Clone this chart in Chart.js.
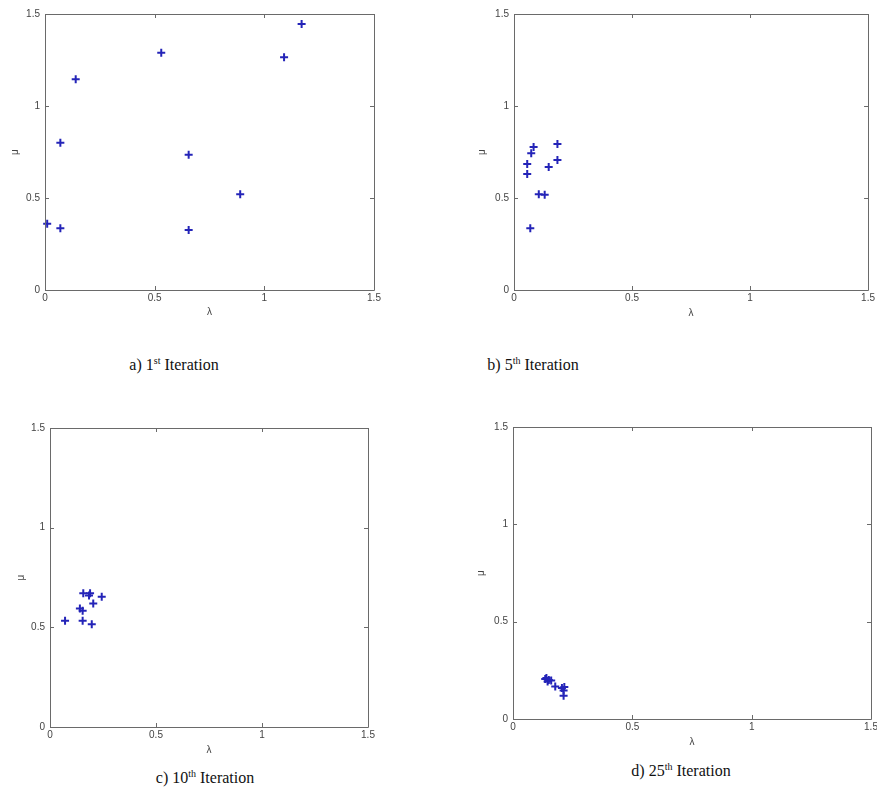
<!DOCTYPE html>
<html>
<head>
<meta charset="utf-8">
<script src="https://cdn.jsdelivr.net/npm/chart.js@4/dist/chart.umd.min.js"></script>
<style>
  html, body { margin: 0; padding: 0; background: #fff; overflow: hidden; }
  body { width: 877px; height: 790px; position: relative; }
  .panel { position: absolute; }
  .caption {
    position: absolute;
    font-family: "Liberation Serif", "DejaVu Serif", serif;
    font-size: 16px;
    color: #111;
    text-align: center;
    white-space: nowrap;
    line-height: 18px;
  }
  .caption sup { font-size: 10px; vertical-align: 6px; line-height: 0; }
</style>
</head>
<body>
<div class="panel" style="left:0;top:0"><canvas id="chart-a" width="390" height="330"></canvas></div>
<div class="panel" style="left:470px;top:0"><canvas id="chart-b" width="407" height="330"></canvas></div>
<div class="panel" style="left:0;top:414px"><canvas id="chart-c" width="390" height="350"></canvas></div>
<div class="panel" style="left:470px;top:413px"><canvas id="chart-d" width="410" height="345"></canvas></div>

<div class="caption" style="left:94px;top:356px;width:160px">a) 1<sup>st</sup> Iteration</div>
<div class="caption" style="left:453px;top:356px;width:160px">b) 5<sup>th</sup> Iteration</div>
<div class="caption" style="left:125px;top:769px;width:160px">c) 10<sup>th</sup> Iteration</div>
<div class="caption" style="left:601px;top:762px;width:160px">d) 25<sup>th</sup> Iteration</div>

<script>
// axis ticks shared by all four panels
const tickValues = [0, 0.5, 1, 1.5];
const tickLabels = ['0', '0.5', '1', '1.5'];

// a) 1st iteration
const lambdaA = [0.01, 0.07, 0.07, 0.14, 0.53, 0.655, 0.655, 0.89, 1.09, 1.17];
const muA = [0.36, 0.335, 0.80, 1.145, 1.29, 0.735, 0.326, 0.52, 1.265, 1.445];

// b) 5th iteration
const lambdaB = [0.184, 0.083, 0.073, 0.056, 0.056, 0.184, 0.147, 0.105, 0.130, 0.069];
const muB = [0.793, 0.777, 0.743, 0.685, 0.630, 0.707, 0.668, 0.520, 0.518, 0.335];

// c) 10th iteration
const lambdaC = [0.157, 0.189, 0.184, 0.244, 0.204, 0.141, 0.154, 0.071, 0.154, 0.197];
const muC = [0.671, 0.671, 0.660, 0.654, 0.620, 0.595, 0.583, 0.533, 0.533, 0.516];

// d) 25th iteration
const lambdaD = [0.135, 0.145, 0.150, 0.160, 0.177, 0.205, 0.212, 0.215, 0.212, 0.140];
const muD = [0.205, 0.193, 0.200, 0.198, 0.167, 0.159, 0.147, 0.165, 0.120, 0.210];

const markerColor = '#2424b8';
const axisColor = '#6a6a6a';
const labelColor = '#444';
const tickFont = { family: 'Liberation Sans, Arial, sans-serif', size: 10 };

// matlab style box with inward ticks on all four sides
const matlabBox = {
  id: 'matlabBox',
  afterDraw(chart) {
    const { ctx, chartArea: { left, right, top, bottom }, scales: { x, y } } = chart;
    ctx.save();
    ctx.strokeStyle = axisColor;
    ctx.lineWidth = 1;
    ctx.beginPath();
    ctx.rect(Math.round(left) + 0.5, Math.round(top) + 0.5, Math.round(right - left), Math.round(bottom - top));
    tickValues.forEach(v => {
      const px = Math.round(x.getPixelForValue(v)) + 0.5;
      ctx.moveTo(px, bottom); ctx.lineTo(px, bottom - 4);
      ctx.moveTo(px, top); ctx.lineTo(px, top + 4);
      const py = Math.round(y.getPixelForValue(v)) + 0.5;
      ctx.moveTo(left, py); ctx.lineTo(left + 4, py);
      ctx.moveTo(right, py); ctx.lineTo(right - 4, py);
    });
    ctx.stroke();
    ctx.restore();
  }
};

const drawPanel = (id, lambda, mu, box) => {
  const points = lambda.map((l, i) => ({ x: l, y: mu[i] }));
  const axis = (extra) => ({
    type: 'linear',
    min: 0,
    max: 1.5,
    afterBuildTicks: scale => { scale.ticks = tickValues.map(v => ({ value: v })); },
    grid: { display: false, drawTicks: false },
    border: { display: false },
    ticks: {
      color: labelColor,
      font: tickFont,
      maxRotation: 0,
      callback: (v) => tickLabels[tickValues.indexOf(v)]
    },
    ...extra
  });
  return new Chart(document.getElementById(id), {
    type: 'scatter',
    data: {
      datasets: [{
        data: points,
        pointStyle: 'cross',
        pointRadius: 4,
        pointBorderWidth: 2,
        borderColor: markerColor,
        backgroundColor: markerColor
      }]
    },
    options: {
      responsive: false,
      animation: false,
      clip: false,
      layout: { padding: box.padding },
      plugins: { legend: { display: false }, tooltip: { enabled: false } },
      scales: {
        x: axis({
          ticks: { color: labelColor, font: tickFont, maxRotation: 0, padding: 2,
            callback: (v) => tickLabels[tickValues.indexOf(v)] },
          title: { display: true, text: 'λ', color: labelColor, font: tickFont, padding: 0 },
          afterFit: s => { s.height = box.xHeight; }
        }),
        y: axis({
          ticks: { color: labelColor, font: tickFont, padding: 5,
            callback: (v) => tickLabels[tickValues.indexOf(v)] },
          title: { display: true, text: 'μ', color: labelColor, font: tickFont, padding: { top: box.muPad, bottom: 0 } },
          afterFit: s => { s.width = box.yWidth; }
        })
      }
    },
    plugins: [matlabBox]
  });
};

drawPanel('chart-a', lambdaA, muA, { padding: { top: 14, right: 16, left: 0, bottom: 12 }, yWidth: 45, xHeight: 28, muPad: 9 });
drawPanel('chart-b', lambdaB, muB, { padding: { top: 14, right: 7, left: 0, bottom: 11 }, yWidth: 44, xHeight: 29, muPad: 6 });
drawPanel('chart-c', lambdaC, muC, { padding: { top: 14, right: 22, left: 0, bottom: 8 }, yWidth: 50, xHeight: 29, muPad: 15 });
drawPanel('chart-d', lambdaD, muD, { padding: { top: 14, right: 9, left: 0, bottom: 10 }, yWidth: 43, xHeight: 29, muPad: 5 });
</script>
</body>
</html>
